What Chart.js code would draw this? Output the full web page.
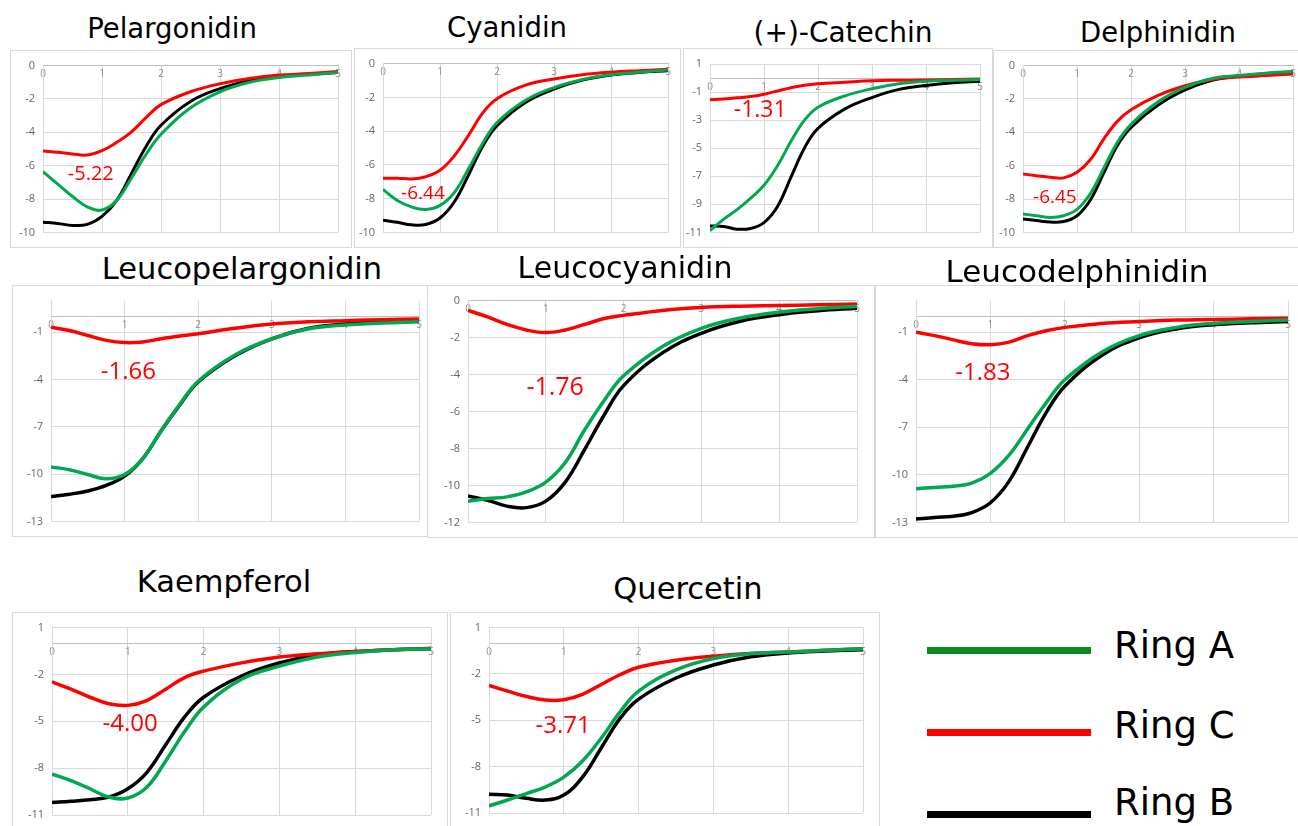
<!DOCTYPE html>
<html>
<head>
<meta charset="utf-8">
<script src="https://cdn.jsdelivr.net/npm/chart.js@4/dist/chart.umd.min.js"></script>
<style>
body { margin: 0; width: 1298px; height: 826px; overflow: hidden; background: #fff; position: relative; font-family: "DejaVu Sans", sans-serif; }
.box { position: absolute; border: 1px solid #d9d9d9; box-sizing: border-box; background: #fff; }
.box canvas { position: absolute; left: 0; top: 0; }
.ttl { position: absolute; z-index: 2; width: 400px; text-align: center; color: #000; white-space: nowrap; }
.leg-line { position: absolute; left: 927px; width: 164px; height: 7px; }
.leg-text { position: absolute; left: 1114px; font-size: 37px; line-height: 37px; color: #000; }
</style>
</head>
<body>
<script>
// distance (x) shared by every panel
const xValues = [0, 0.25, 0.5, 0.75, 1, 1.25, 1.5, 1.75, 2, 2.5, 3, 3.5, 4, 4.5, 5];
const xTicks = [0, 1, 2, 3, 4, 5];

// Pelargonidin
const pelargonidinA = [-6.36, -7.1, -7.85, -8.47, -8.66, -8.08, -6.74, -5.3, -4.12, -2.53, -1.57, -1.0, -0.71, -0.56, -0.42];
const pelargonidinC = [-5.12, -5.2, -5.3, -5.36, -5.1, -4.6, -3.97, -3.1, -2.34, -1.57, -1.09, -0.77, -0.57, -0.48, -0.36];
const pelargonidinB = [-9.39, -9.46, -9.58, -9.52, -9.04, -8.08, -6.46, -4.83, -3.58, -2.15, -1.38, -0.9, -0.65, -0.52, -0.42];
// Cyanidin
const cyanidinA = [-7.45, -8.11, -8.49, -8.64, -8.4, -7.64, -6.23, -4.72, -3.49, -2.17, -1.42, -0.94, -0.66, -0.51, -0.38];
const cyanidinC = [-6.79, -6.79, -6.83, -6.7, -6.32, -5.47, -4.25, -2.92, -2.08, -1.28, -0.91, -0.66, -0.51, -0.42, -0.34];
const cyanidinB = [-9.28, -9.4, -9.55, -9.53, -9.15, -8.2, -6.6, -4.9, -3.68, -2.3, -1.51, -0.98, -0.68, -0.53, -0.42];
// (+)-Catechin
const catechinA = [-10.88, -10.07, -9.38, -8.57, -7.64, -6.25, -4.51, -3.0, -2.08, -1.27, -0.76, -0.41, -0.23, -0.16, -0.11];
const catechinC = [-1.55, -1.5, -1.41, -1.32, -1.15, -0.92, -0.69, -0.51, -0.41, -0.3, -0.2, -0.16, -0.14, -0.11, -0.07];
const catechinB = [-10.54, -10.58, -10.77, -10.72, -10.3, -9.15, -7.06, -4.98, -3.59, -2.2, -1.39, -0.81, -0.53, -0.34, -0.23];
// Delphinidin
const delphinidinA = [-8.9, -9.0, -9.1, -9.0, -8.62, -7.65, -6.12, -4.58, -3.52, -2.17, -1.31, -0.77, -0.6, -0.46, -0.35];
const delphinidinC = [-6.5, -6.6, -6.69, -6.73, -6.4, -5.63, -4.38, -3.33, -2.65, -1.79, -1.21, -0.83, -0.69, -0.6, -0.5];
const delphinidinB = [-9.19, -9.29, -9.38, -9.35, -9.0, -8.04, -6.4, -4.77, -3.71, -2.37, -1.46, -0.88, -0.63, -0.48, -0.38];
// Leucopelargonidin
const leucopelargonidinA = [-9.55, -9.72, -10.03, -10.3, -10.03, -9.0, -7.23, -5.57, -4.11, -2.45, -1.42, -0.79, -0.54, -0.42, -0.34];
const leucopelargonidinC = [-0.69, -0.9, -1.21, -1.52, -1.66, -1.62, -1.42, -1.25, -1.1, -0.75, -0.48, -0.34, -0.27, -0.21, -0.17];
const leucopelargonidinB = [-11.42, -11.28, -11.07, -10.72, -10.13, -9.0, -7.23, -5.61, -4.16, -2.5, -1.42, -0.75, -0.48, -0.34, -0.23];
// Leucocyanidin
const leucocyanidinA = [-10.85, -10.71, -10.62, -10.35, -9.82, -8.76, -6.99, -5.4, -4.07, -2.48, -1.5, -0.94, -0.62, -0.44, -0.3];
const leucocyanidinC = [-0.53, -0.88, -1.29, -1.59, -1.73, -1.59, -1.29, -0.97, -0.8, -0.53, -0.37, -0.3, -0.27, -0.23, -0.18];
const leucocyanidinB = [-10.57, -10.8, -11.12, -11.2, -10.85, -9.82, -8.05, -6.19, -4.6, -2.83, -1.77, -1.12, -0.76, -0.55, -0.41];
// Leucodelphinidin
const leucodelphinidinA = [-10.87, -10.79, -10.72, -10.52, -9.9, -8.76, -7.1, -5.45, -4.0, -2.24, -1.21, -0.69, -0.44, -0.32, -0.23];
const leucodelphinidinC = [-1.0, -1.21, -1.48, -1.72, -1.79, -1.62, -1.21, -0.9, -0.69, -0.44, -0.32, -0.23, -0.19, -0.15, -0.11];
const leucodelphinidinB = [-12.79, -12.69, -12.61, -12.38, -11.76, -10.41, -8.24, -6.07, -4.41, -2.45, -1.35, -0.79, -0.52, -0.4, -0.32];
// Kaempferol
const kaempferolA = [-8.38, -8.8, -9.32, -9.85, -9.91, -9.22, -7.54, -5.66, -4.09, -2.31, -1.47, -0.88, -0.59, -0.42, -0.36];
const kaempferolC = [-2.48, -2.94, -3.46, -3.88, -3.98, -3.67, -2.94, -2.2, -1.79, -1.26, -0.88, -0.68, -0.55, -0.42, -0.34];
const kaempferolB = [-10.2, -10.12, -10.02, -9.85, -9.32, -8.28, -6.5, -4.72, -3.46, -2.1, -1.26, -0.74, -0.53, -0.42, -0.34];
// Quercetin
const quercetinA = [-10.54, -10.16, -9.74, -9.32, -8.68, -7.63, -6.16, -4.47, -3.11, -1.74, -1.0, -0.68, -0.58, -0.47, -0.37];
const quercetinC = [-2.75, -3.11, -3.46, -3.69, -3.67, -3.32, -2.68, -2.05, -1.57, -1.11, -0.85, -0.68, -0.58, -0.47, -0.37];
const quercetinB = [-9.78, -9.84, -10.05, -10.16, -9.84, -8.68, -6.79, -4.89, -3.63, -2.26, -1.42, -0.89, -0.64, -0.52, -0.43];

// y tick labels
const ticksTen = [0, -2, -4, -6, -8, -10];
const ticksEleven = [1, -1, -3, -5, -7, -9, -11];
const ticksTwelve = [0, -2, -4, -6, -8, -10, -12];
const ticksThirteen = [-1, -4, -7, -10, -13];
const ticksStepThree = [1, -2, -5, -8, -11];

// annotated ring C minima: label text and where it sits (x, y in data units)
const noteLabels = ['-5.22', '-6.44', '-1.31', '-6.45', '-1.66', '-1.76', '-1.83', '-4.00', '-3.71'];
const noteX = [0.81, 0.70, 0.93, 0.59, 1.05, 1.12, 0.90, 1.03, 0.99];
const noteY = [-6.5, -7.7, -2.3, -7.9, -3.55, -4.7, -3.6, -5.2, -5.4];

const seriesNames = ['Ring A', 'Ring C', 'Ring B'];
const seriesColors = ['#00a84f', '#ff0000', '#000000'];

// panel layout: box = [left, top, right, bottom], plot = [left, top, right, bottom] (page px)
const panels = [
  { title: 'Pelargonidin', cx: 172, base: 38, tsize: 27.5, box: [10, 50, 352, 248], plot: [43, 63, 338, 237], y: [-10, 0], ticks: ticksTen, data: [pelargonidinA, pelargonidinC, pelargonidinB], font: 20, lw: 3 },
  { title: 'Cyanidin', cx: 507, base: 37, tsize: 27.5, box: [354, 48, 681, 248], plot: [383, 60, 668, 237], y: [-10, 0], ticks: ticksTen, data: [cyanidinA, cyanidinC, cyanidinB], font: 19, lw: 3 },
  { title: '(+)-Catechin', cx: 843, base: 43, tsize: 28, box: [683, 48, 993, 248], plot: [710, 64, 980, 237], y: [-11, 1], ticks: ticksEleven, data: [catechinA, catechinC, catechinB], font: 23, lw: 3 },
  { title: 'Delphinidin', cx: 1158, base: 42, tsize: 27.5, box: [993, 50, 1300, 248], plot: [1023, 64, 1297, 237], y: [-10, 0], ticks: ticksTen, data: [delphinidinA, delphinidinC, delphinidinB], font: 19, lw: 3 },
  { title: 'Leucopelargonidin', cx: 242, base: 280, tsize: 30.5, box: [12, 285, 428, 537], plot: [51, 298, 419, 523], y: [-13, 1], ticks: ticksThirteen, data: [leucopelargonidinA, leucopelargonidinC, leucopelargonidinB], font: 24, lw: 3.5 },
  { title: 'Leucocyanidin', cx: 625, base: 278, tsize: 30, box: [427, 285, 875, 538], plot: [468, 298, 857, 524], y: [-12, 0], ticks: ticksTwelve, data: [leucocyanidinA, leucocyanidinC, leucocyanidinB], font: 25, lw: 3.5 },
  { title: 'Leucodelphinidin', cx: 1077, base: 282, tsize: 31, box: [875, 285, 1300, 538], plot: [916, 299, 1288, 525], y: [-13, 1], ticks: ticksThirteen, data: [leucodelphinidinA, leucodelphinidinC, leucodelphinidinB], font: 24, lw: 3.5 },
  { title: 'Kaempferol', cx: 224, base: 593, tsize: 30.5, box: [12, 612, 448, 832], plot: [52, 624, 431, 815], y: [-11, 1], ticks: ticksStepThree, data: [kaempferolA, kaempferolC, kaempferolB], font: 24, lw: 3.5 },
  { title: 'Quercetin', cx: 688, base: 600, tsize: 30.5, box: [450, 612, 880, 832], plot: [489, 623, 863, 813], y: [-11, 1], ticks: ticksStepThree, data: [quercetinA, quercetinC, quercetinB], font: 24, lw: 3.5 }
];

// draws the red minimum value as text inside the plot
const notePlugin = {
  id: 'note',
  afterDatasetsDraw(chart, args, opts) {
    const ctx = chart.ctx;
    ctx.save();
    ctx.fillStyle = '#ff0000';
    ctx.font = opts.size + 'px "Open Sans", sans-serif';
    ctx.textAlign = 'center';
    ctx.textBaseline = 'middle';
    ctx.fillText(opts.text, chart.scales.x.getPixelForValue(opts.x), chart.scales.y.getPixelForValue(opts.y));
    ctx.restore();
  }
};

panels.forEach((p, i) => {
  const [bl, bt, br, bb] = p.box;
  const [pl, pt, pr, pb] = p.plot;

  const title = document.createElement('div');
  title.className = 'ttl';
  title.textContent = p.title;
  title.style.fontSize = p.tsize + 'px';
  title.style.lineHeight = p.tsize + 'px';
  title.style.left = (p.cx - 200) + 'px';
  title.style.top = (p.base - 0.846 * p.tsize) + 'px';
  document.body.appendChild(title);

  const box = document.createElement('div');
  box.className = 'box';
  box.style.left = bl + 'px';
  box.style.top = bt + 'px';
  box.style.width = (br - bl) + 'px';
  box.style.height = (bb - bt) + 'px';
  const canvas = document.createElement('canvas');
  canvas.width = br - bl - 2;
  canvas.height = bb - bt - 2;
  box.appendChild(canvas);
  document.body.appendChild(box);

  const yTicks = p.ticks;
  new Chart(canvas.getContext('2d'), {
    type: 'line',
    data: {
      datasets: p.data.map((vals, k) => ({
        label: seriesNames[k],
        data: xValues.map((x, j) => ({ x: x, y: vals[j] })),
        borderColor: seriesColors[k],
        borderWidth: p.lw,
        pointRadius: 0,
        tension: 0.4,
        fill: false
      }))
    },
    options: {
      responsive: false,
      animation: false,
      events: [],
      layout: {
        padding: { left: 0, top: pt - (bt + 1), right: (br - 1) - pr, bottom: (bb - 1) - pb }
      },
      plugins: {
        legend: { display: false },
        tooltip: { enabled: false },
        note: { text: noteLabels[i], x: noteX[i], y: noteY[i], size: p.font }
      },
      scales: {
        x: {
          type: 'linear',
          position: { y: 0 },
          min: 0,
          max: 5,
          afterBuildTicks: s => { s.ticks = xTicks.map(v => ({ value: v })); },
          grid: { color: '#d9d9d9', drawTicks: false },
          border: { color: '#bfbfbf' },
          ticks: { color: '#8c8c8c', padding: 3, font: { family: 'Open Sans', size: 10 } }
        },
        y: {
          min: p.y[0],
          max: p.y[1],
          afterBuildTicks: s => { s.ticks = yTicks.map(v => ({ value: v })); },
          afterFit: s => { s.width = pl - (bl + 1); },
          grid: { color: '#d9d9d9', drawTicks: false },
          border: { color: '#d9d9d9' },
          ticks: { color: '#666666', padding: 8, font: { family: 'Open Sans', size: 11 } }
        }
      }
    },
    plugins: [notePlugin]
  });
});

// legend
const legendTops = [647, 729, 811];
const legendTextTops = [627, 707, 784];
const legendColors = ['#0d8a1c', '#ff0000', '#000000'];
seriesNames.forEach((name, k) => {
  const line = document.createElement('div');
  line.className = 'leg-line';
  line.style.top = legendTops[k] + 'px';
  line.style.background = legendColors[k];
  document.body.appendChild(line);
  const txt = document.createElement('div');
  txt.className = 'leg-text';
  txt.style.top = legendTextTops[k] + 'px';
  txt.textContent = name;
  document.body.appendChild(txt);
});
</script>
</body>
</html>
